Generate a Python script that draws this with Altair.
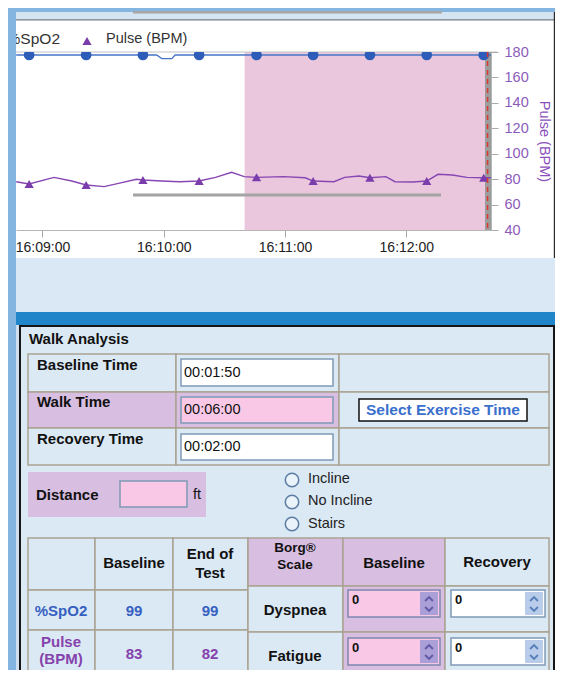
import altair as alt
import pandas as pd

# ---------------- data ----------------
# time in seconds after 16:00:00
pulse_time = [527.0, 533.4, 545.7, 554.5, 561.6, 570.5, 577.6, 586.5, 589.7, 598.9, 607.8,
              617.5, 625.6, 633.6, 639.8, 645.9, 659.3, 670.0, 673.9, 684.2, 689.5, 696.6,
              702.0, 709.9, 714.4, 723.2, 730.1, 735.7, 742.8, 749.9, 758.3, 761.9]
pulse_bpm = [78.0, 76.2, 81.4, 78.5, 75.4, 74.1, 76.7, 79.9, 79.3, 78.5, 78.0,
             78.5, 81.4, 85.4, 82.0, 81.4, 82.0, 81.1, 78.5, 78.0, 81.4, 82.5,
             81.1, 82.0, 78.0, 77.8, 78.5, 83.8, 83.3, 81.4, 81.1, 81.1]
marker_time = [533.4, 561.6, 589.7, 617.5, 645.9, 673.9, 702.0, 730.1, 758.3]
marker_bpm = [76.2, 75.4, 79.3, 78.5, 81.4, 78.5, 81.1, 78.5, 81.1]
marker_spo2 = [99, 99, 99, 99, 99, 99, 99, 99, 99]
spo2_time = [527.0, 596.5, 599.0, 604.0, 605.6, 761.9]
spo2_pct = [99, 99, 98, 98, 99, 99]

walk_start = 640.0          # 16:10:40
cursor_time = 760.2

x_tick_values = [540, 600, 660, 720]
x_tick_labels = ["16:09:00", "16:10:00", "16:11:00", "16:12:00"]
y_tick_values = [40, 60, 80, 100, 120, 140, 160, 180]

legend_labels = ["%SpO2", "Pulse (BPM)"]

baseline_time = "00:01:50"
walk_time = "00:06:00"
recovery_time = "00:02:00"
spo2_baseline, spo2_end = 99, 99
pulse_baseline, pulse_end = 83, 82
borg_values = ["0", "0", "0", "0"]
radio_labels = ["Incline", "No Incline", "Stairs"]

# ---------------- layout ----------------
FONT = "Liberation Sans"
W, H = 475, 178            # plot area: page x 16..491, y 52..230
X0, Y0 = 16, 52
CW, CH = 547, 662
PAD = {"left": X0 - 8, "top": Y0 - 8, "right": CW - (X0 - 8) - W, "bottom": CH - (Y0 - 8) - H}

PX = alt.Scale(domain=[X0, X0 + W], range=[0, W], nice=False, zero=False)
PY = alt.Scale(domain=[Y0, Y0 + H], range=[0, H], nice=False, zero=False)
TX = alt.Scale(domain=[526.9, 761.9], nice=False, zero=False)
TY = alt.Scale(domain=[40, 180], nice=False, zero=False)
SY = alt.Scale(domain=[50, 99.84], nice=False, zero=False)

PURPLE_CELL = "#d8bee1"
PINK = "#f8c8e6"
PANEL = "#dbe9f5"
GRID = "#aaa392"
INB = "#7f9ab5"
T = "transparent"


def rects(rows):
    df = pd.DataFrame(rows, columns=["x1", "x2", "y1", "y2", "fill", "stroke", "sw"])
    return alt.Chart(df).mark_rect().encode(
        x=alt.X("x1:Q", scale=PX, axis=None), x2="x2:Q",
        y=alt.Y("y1:Q", scale=PY, axis=None), y2="y2:Q",
        fill=alt.Fill("fill:N", scale=None),
        stroke=alt.Stroke("stroke:N", scale=None),
        strokeWidth=alt.StrokeWidth("sw:Q", scale=None),
    )


def texts(rows, weight="normal", align="left"):
    df = pd.DataFrame(rows, columns=["x", "y", "text", "color", "size"])
    return alt.Chart(df).mark_text(font=FONT, fontWeight=weight, align=align, baseline="middle").encode(
        x=alt.X("x:Q", scale=PX, axis=None),
        y=alt.Y("y:Q", scale=PY, axis=None),
        text="text:N",
        color=alt.Color("color:N", scale=None),
        size=alt.Size("size:Q", scale=None),
    )


def points(rows, **mark):
    df = pd.DataFrame(rows, columns=["x", "y"])
    return alt.Chart(df).mark_point(opacity=1, **mark).encode(
        x=alt.X("x:Q", scale=PX, axis=None),
        y=alt.Y("y:Q", scale=PY, axis=None),
    )


# window background
bg = rects([
    (16, 556, 12, 20, "#d5e4f1", T, 0),
    (133, 442, 11, 13.5, "#a6a6a6", T, 0),
    (16, 556, 19.5, 20.5, "#4a4a4a", T, 0),
    (16, 556, 20.5, 258, "#ffffff", T, 0),
    (553.8, 555, 12, 258, "#2a2a2a", T, 0),
    (16, 556, 258, 312, "#dae8f5", T, 0),
    (16, 556, 312, 325, "#2185c9", T, 0),
    (16, 19, 325, 700, "#cfdff0", T, 0),
    (20, 554, 326, 700, PANEL, "#151515", 2),
])

# chart furniture
mid = rects([
    (16, 497, 51.5, 52.5, "#c4c4c4", T, 0),
    (133, 441, 193.5, 196.5, "#a4a4a4", T, 0),
    (485, 491, 52, 230, "#9c9c9c", T, 0),
])

walk = alt.Chart(pd.DataFrame({"t1": [walk_start], "t2": [cursor_time], "lo": [40], "hi": [180]})).mark_rect(
    color="#eac7dd").encode(
    x=alt.X("t1:Q", scale=TX, axis=None), x2="t2:Q",
    y=alt.Y("lo:Q", scale=TY, axis=None), y2="hi:Q")

label_expr = ("[" + ",".join("'%s'" % s for s in x_tick_labels) + "][indexof(["
              + ",".join(str(v) for v in x_tick_values) + "], datum.value)]")

x_axis = alt.Axis(values=x_tick_values, labelExpr=label_expr, title=None, grid=False,
                  tickSize=7, tickColor="#a9a9a9", domainColor="#b5b5b5",
                  labelColor="#222222", labelFont=FONT, labelFontSize=14, labelPadding=3,
                  labelOverlap=False, labelFlush=False, zindex=1)
y_axis = alt.Axis(orient="right", values=y_tick_values, title="Pulse (BPM)", grid=False,
                  tickSize=7, tickColor="#a9a9a9", domainColor="#b5b5b5",
                  labelColor="#8c5cbc", labelFont=FONT, labelFontSize=14.5, labelPadding=6,
                  labelFlush=False, labelOverlap=False,
                  titleColor="#8a4fba", titleFont=FONT, titleFontSize=14.5, titleFontWeight="normal",
                  titleAngle=90, titlePadding=8, zindex=1)

pulse_line = alt.Chart(pd.DataFrame({"t": pulse_time, "bpm": pulse_bpm})).mark_line(
    color="#8646b3", strokeWidth=1.4, clip=True).encode(
    x=alt.X("t:Q", scale=TX, axis=x_axis),
    y=alt.Y("bpm:Q", scale=TY, axis=y_axis))

pulse_pts = alt.Chart(pd.DataFrame({"t": marker_time, "bpm": marker_bpm})).mark_point(
    shape="triangle-up", filled=True, size=85, color="#7a3dab", opacity=1, clip=True).encode(
    x=alt.X("t:Q", scale=TX, axis=None),
    y=alt.Y("bpm:Q", scale=TY, axis=None))

spo2_line = alt.Chart(pd.DataFrame({"t": spo2_time, "s": spo2_pct})).mark_line(
    color="#4676c8", strokeWidth=1.3, clip=True).encode(
    x=alt.X("t:Q", scale=TX, axis=None),
    y=alt.Y("s:Q", scale=SY, axis=None))

spo2_pts = alt.Chart(pd.DataFrame({"t": marker_time, "s": marker_spo2})).mark_circle(
    size=115, color="#2d5db8", opacity=1, clip=True).encode(
    x=alt.X("t:Q", scale=TX, axis=None),
    y=alt.Y("s:Q", scale=SY, axis=None))

cursor = alt.Chart(pd.DataFrame({"t": [cursor_time]})).mark_rule(
    color="#e0342e", strokeDash=[5, 4], strokeWidth=1.5).encode(
    x=alt.X("t:Q", scale=TX, axis=None))

legend_right = texts([(60, 39, legend_labels[0], "#333333", 15.5)], align="right")
legend_left = texts([(106, 39, legend_labels[1], "#333333", 14.5)], align="left")
legend_tri = points([(87, 41)], shape="triangle-up", filled=True, size=85, color="#7a3dab")

# ---------------- form ----------------
form = []
# table 1
ry = [354, 392, 428, 465]
cx = [28, 176, 339, 549]
for r in range(3):
    for c in range(3):
        fill = PURPLE_CELL if (r == 1 and c < 2) else PANEL
        form.append((cx[c], cx[c + 1], ry[r], ry[r + 1], fill, GRID, 1.5))
form += [
    (181, 333, 359, 386, "#ffffff", INB, 1.5),
    (181, 333, 397, 423, PINK, INB, 1.5),
    (181, 333, 434, 460, "#ffffff", INB, 1.5),
    (359, 527, 399, 421, "#ffffff", "#111111", 1.5),
    (28, 206, 472, 517, PURPLE_CELL, T, 0),
    (120, 187, 481, 507, PINK, INB, 1.5),
]
# table 2
c2 = [28, 95, 173, 248, 343, 445, 549]
left_rows = [538, 590, 630, 700]
right_rows = [538, 586, 632, 700]
for c in range(6):
    rows_ = left_rows if c < 3 else right_rows
    for r in range(3):
        fill = PANEL
        if c == 4 or (c == 3 and r == 0):
            fill = PURPLE_CELL
        form.append((c2[c], c2[c + 1], rows_[r], rows_[r + 1], fill, GRID, 1.5))
for (y1, y2) in [(590, 617), (638, 665)]:
    form += [
        (348, 440, y1, y2, PINK, "#7d86b0", 1.5),
        (420, 438, y1 + 2, y2 - 2, "#aa9fd6", T, 0),
        (451, 545, y1, y2, "#ffffff", INB, 1.5),
        (525, 543, y1 + 2, y2 - 2, "#b9cdea", T, 0),
    ]
form_rects = rects(form)

BLACK = "#111111"
BLUE = "#3560c0"
PURP = "#8542ad"
bold_left = texts([
    (29, 339, "Walk Analysis", BLACK, 15),
    (37, 365, "Baseline Time", BLACK, 15),
    (37, 402, "Walk Time", BLACK, 15),
    (37, 439, "Recovery Time", BLACK, 15),
    (36, 495, "Distance", BLACK, 15),
    (352, 600, borg_values[0], BLACK, 13),
    (455, 600, borg_values[1], BLACK, 13),
    (352, 648, borg_values[2], BLACK, 13),
    (455, 648, borg_values[3], BLACK, 13),
], weight="bold", align="left")

reg_left = texts([
    (184, 373, baseline_time, BLACK, 14.5),
    (184, 410, walk_time, BLACK, 14.5),
    (184, 447, recovery_time, BLACK, 14.5),
    (193, 495, "ft", BLACK, 14.5),
    (308, 479, radio_labels[0], "#222222", 14.5),
    (308, 501, radio_labels[1], "#222222", 14.5),
    (308, 524, radio_labels[2], "#222222", 14.5),
], weight="normal", align="left")

bold_center = texts([
    (443, 410, "Select Exercise Time", "#3b6fcc", 15.5),
    (134, 563, "Baseline", BLACK, 15),
    (210, 554, "End of", BLACK, 15),
    (210, 573, "Test", BLACK, 15),
    (295, 548, "Borg®", BLACK, 13.5),
    (295, 565, "Scale", BLACK, 13.5),
    (394, 563, "Baseline", BLACK, 15),
    (497, 562, "Recovery", BLACK, 15),
    (61, 611, "%SpO2", BLUE, 15),
    (134, 611, str(spo2_baseline), BLUE, 15),
    (210, 611, str(spo2_end), BLUE, 15),
    (295, 610, "Dyspnea", BLACK, 15),
    (61, 642, "Pulse", PURP, 15),
    (61, 659, "(BPM)", PURP, 15),
    (134, 654, str(pulse_baseline), PURP, 15),
    (210, 654, str(pulse_end), PURP, 15),
    (295, 656, "Fatigue", BLACK, 15),
], weight="bold", align="center")

radio = points([(292, 480), (292, 502), (292, 524)], shape="circle", filled=True,
               fill="#eaf2fa", stroke="#5b7da3", strokeWidth=1.5, size=180)

chev_up_pink = points([(429, 599), (429, 647)], shape="M-1,0.5L0,-0.5L1,0.5", filled=False,
                      color="#625aa6", strokeWidth=2, size=60)
chev_dn_pink = points([(429, 609), (429, 657)], shape="M-1,-0.5L0,0.5L1,-0.5", filled=False,
                      color="#625aa6", strokeWidth=2, size=60)
chev_up_w = points([(534, 599), (534, 647)], shape="M-1,0.5L0,-0.5L1,0.5", filled=False,
                   color="#5a80bb", strokeWidth=2, size=60)
chev_dn_w = points([(534, 609), (534, 657)], shape="M-1,-0.5L0,0.5L1,-0.5", filled=False,
                   color="#5a80bb", strokeWidth=2, size=60)

fg = rects([(8, 16, 8, 700, "#84b4e0", T, 0)])

chart = alt.layer(
    bg, walk, mid, pulse_line, pulse_pts, spo2_line, spo2_pts, cursor,
    legend_right, legend_left, legend_tri,
    form_rects, bold_left, reg_left, bold_center, radio,
    chev_up_pink, chev_dn_pink, chev_up_w, chev_dn_w, fg,
).resolve_scale(x="independent", y="independent").properties(
    width=W, height=H, padding=PAD,
    autosize=alt.AutoSizeParams(type="none"),
    background="#84b4e0",
).configure_view(stroke=None)

chart.save("out.html", embed_options={"renderer": "svg", "actions": False})
